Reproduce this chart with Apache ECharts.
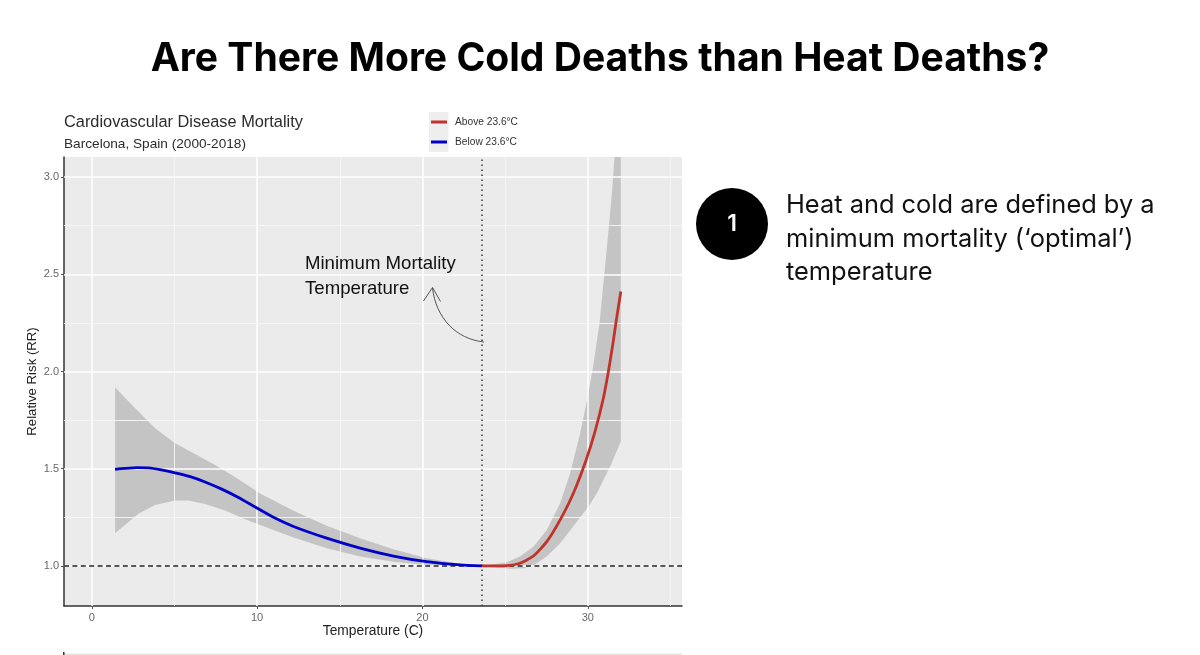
<!DOCTYPE html>
<html><head><meta charset="utf-8">
<style>html,body{margin:0;padding:0;background:#fff}#c{width:1200px;height:655px}</style>
<script src="https://cdn.jsdelivr.net/npm/echarts@6/dist/echarts.min.js"></script>
</head><body><div id="c"></div>
<script>
const slideTitle = 'Are There More Cold Deaths than Heat Deaths?';
const plotTitle = 'Cardiovascular Disease Mortality';
const plotSubtitle = 'Barcelona, Spain (2000-2018)';
const note = 'Heat and cold are defined by a\nminimum mortality (‘optimal’)\ntemperature';
const annotation = 'Minimum Mortality\nTemperature';
const xTicks = [0, 10, 20, 30];
const xMinor = [5, 15, 25, 35];
const yTicks = [1.0, 1.5, 2.0, 2.5, 3.0];
const yMinor = [1.25, 1.75, 2.25, 2.75];
const mmt = 23.6;

const belowMean = [[1.41,1.497],[2.01,1.502],[2.72,1.506],[3.43,1.504],[4.13,1.495],[5.04,1.479],[5.95,1.459],[6.85,1.432],[7.86,1.395],[8.87,1.352],[9.88,1.303],[10.99,1.25],[12.2,1.203],[14.21,1.143],[16.23,1.092],[18.25,1.051],[20.26,1.022],[22.28,1.005],[23.6,1.0]];
const aboveMean = [[23.6,1.0],[25.1,1.002],[25.9,1.014],[26.71,1.051],[27.52,1.125],[28.33,1.237],[29.13,1.374],[29.9,1.545],[30.45,1.695],[30.95,1.865],[31.29,2.02],[31.55,2.16],[31.76,2.282],[32,2.411]];
const belowUpper = [[1.41,1.919],[2.01,1.865],[2.82,1.794],[3.83,1.708],[5.04,1.631],[6.25,1.576],[7.46,1.519],[8.47,1.468],[9.48,1.412],[10.18,1.372],[12.2,1.284],[14.21,1.207],[16.23,1.142],[18.25,1.086],[20.26,1.04],[22.28,1.011],[23.6,1.0]];
const belowLower = [[1.41,1.168],[2.01,1.211],[2.82,1.268],[3.83,1.314],[5.04,1.336],[5.84,1.336],[6.85,1.319],[8.06,1.285],[9.27,1.24],[10.18,1.21],[12.2,1.146],[14.21,1.091],[16.23,1.048],[18.25,1.022],[20.26,1.005],[22.28,0.998],[23.6,1.0]];
const aboveUpper = [[23.6,1.0],[25.1,1.019],[25.9,1.048],[26.71,1.099],[27.52,1.185],[28.33,1.322],[28.93,1.477],[29.54,1.683],[29.94,1.846],[30.29,2.008],[30.71,2.248],[31.01,2.506],[31.26,2.73],[31.46,2.917],[31.62,3.105],[32,3.55]];
const aboveLower = [[23.6,1.0],[24.5,0.991],[25.3,0.985],[26.1,0.988],[26.71,1.002],[27.52,1.048],[28.33,1.117],[29.13,1.204],[30.04,1.305],[30.55,1.374],[31.35,1.51],[32,1.64]];

const gridLineData = [
  ...xTicks.map(x => ({xAxis: x, lineStyle: {color: '#fff', width: 1.5, type: 'solid'}})),
  ...xMinor.map(x => ({xAxis: x, lineStyle: {color: '#f6f6f6', width: 0.9, type: 'solid'}})),
  ...yTicks.map(y => ({yAxis: y, lineStyle: {color: '#fff', width: 1.5, type: 'solid'}})),
  ...yMinor.map(y => ({yAxis: y, lineStyle: {color: '#f6f6f6', width: 0.9, type: 'solid'}}))
];
function bandSeries(upper, lower, name) {
  return {
    type: 'custom', name, data: upper, silent: true, clip: true, z: 3,
    encode: {x: 0, y: 1},
    renderItem(params, api) {
      if (params.dataIndex !== 0) return null;
      const top = upper.map(r => api.coord(r));
      const bottom = lower.map(r => api.coord(r)).reverse();
      return {type: 'polygon', shape: {points: top.concat(bottom)}, style: {fill: 'rgba(0,0,0,0.165)'}};
    }
  };
}
const font = 'Liberation Sans';
const chart = echarts.init(document.getElementById('c'), null, {renderer: 'canvas'});
chart.setOption({
  animation: false,
  backgroundColor: '#fff',
  textStyle: {fontFamily: font},
  title: [
    {text: slideTitle, left: 595, textAlign: 'center', top: 35, textStyle: {fontFamily: 'Inter', fontSize: 39.1, fontWeight: 700, color: '#000'}},
    {text: plotTitle, left: 59, top: 109, textStyle: {fontFamily: font, fontSize: 16.35, fontWeight: 400, color: '#2b2b2b'}},
    {text: plotSubtitle, left: 59, top: 132, textStyle: {fontFamily: font, fontSize: 13.65, fontWeight: 400, color: '#2b2b2b'}}
  ],
  legend: {
    left: 426, top: 112, orient: 'vertical', itemWidth: 16, itemHeight: 3, itemGap: 10, icon: 'rect',
    data: ['Above 23.6°C', 'Below 23.6°C'], selectedMode: false,
    textStyle: {fontFamily: font, fontSize: 10.2, color: '#333', padding: [0, 0, 0, 3]}
  },
  grid: {left: 64, top: 157, right: 518, bottom: 49, show: true, backgroundColor: '#EBEBEB', borderWidth: 0},
  xAxis: {
    type: 'value', min: -1.68, max: 35.7, name: 'Temperature (C)', nameLocation: 'middle', nameGap: 18, nameMoveOverlap: false,
    nameTextStyle: {fontSize: 13.8, color: '#222', fontFamily: font},
    axisLine: {show: true, onZero: false, lineStyle: {color: '#333', width: 1.5}},
    axisTick: {show: true, length: 3, customValues: xTicks, lineStyle: {color: '#555', width: 1}},
    axisLabel: {customValues: xTicks, color: '#666', fontSize: 11, margin: 6, fontFamily: font},
    splitLine: {show: false}
  },
  yAxis: {
    type: 'value', min: 0.794, max: 3.103, name: 'Relative Risk (RR)', nameLocation: 'middle', nameGap: 25, nameMoveOverlap: false,
    nameTextStyle: {fontSize: 13.2, color: '#222', fontFamily: font},
    axisLine: {show: true, onZero: false, lineStyle: {color: '#333', width: 1.5}},
    axisTick: {show: true, length: 3, customValues: yTicks, lineStyle: {color: '#555', width: 1}},
    axisLabel: {customValues: yTicks, color: '#666', fontSize: 11, margin: 5, fontFamily: font, formatter: v => v.toFixed(1)},
    splitLine: {show: false}
  },
  series: [
    {type: 'line', name: 'grid', data: [], silent: true, z: 2,
     markLine: {silent: true, symbol: 'none', label: {show: false}, animation: false, data: gridLineData}},
    bandSeries(belowUpper, belowLower, 'belowBand'),
    bandSeries(aboveUpper, aboveLower, 'aboveBand'),
    {type: 'line', name: 'guides', data: [], silent: true, z: 4,
     markLine: {silent: true, symbol: 'none', label: {show: false}, animation: false, data: [
       {yAxis: 1.0, lineStyle: {color: '#222', width: 1.6, type: [5, 3.4]}},
       {xAxis: mmt, lineStyle: {color: '#444', width: 1.6, type: [1.5, 3.5]}}
     ]}},
    {type: 'line', name: 'Below 23.6°C', data: belowMean, showSymbol: false, smooth: 0.2, z: 5,
     lineStyle: {color: '#0000C8', width: 2.8}, itemStyle: {color: '#0000C8'}},
    {type: 'line', name: 'Above 23.6°C', data: aboveMean, showSymbol: false, smooth: 0.2, z: 5,
     lineStyle: {color: '#C0322A', width: 2.8}, itemStyle: {color: '#C0322A'}}
  ],
  graphic: [
    {type: 'rect', z: -1, shape: {x: 429, y: 112, width: 19.5, height: 40}, style: {fill: '#EEEEEE'}},
    {type: 'rect', z: 1, shape: {x: 64, y: 653.5, width: 618, height: 2}, style: {fill: '#E4E4E4'}},
    {type: 'rect', z: 1, shape: {x: 63, y: 652, width: 1.5, height: 3}, style: {fill: '#333'}},
    {type: 'text', z: 10, x: 305, y: 252, style: {text: annotation, font: '18.6px "Liberation Sans"', fill: '#111', lineHeight: 24.5}},
    {type: 'bezierCurve', z: 10, shape: {x1: 484, y1: 342, cpx1: 456, cpy1: 339, cpx2: 436, cpy2: 318, x2: 432.5, y2: 288}, style: {stroke: '#444', lineWidth: 0.9, fill: 'none'}},
    {type: 'polyline', z: 10, shape: {points: [[423.5, 301], [432.5, 287.5], [440.5, 301.5]]}, style: {stroke: '#444', lineWidth: 0.9, fill: 'none'}},
    {type: 'circle', z: 10, shape: {cx: 732, cy: 224, r: 36}, style: {fill: '#000'}},
    {type: 'text', z: 11, x: 732, y: 224, style: {text: '1', font: '600 23px "Inter"', fill: '#fff', align: 'center', verticalAlign: 'middle'}},
    {type: 'text', z: 10, x: 786, y: 189, style: {text: note, font: '25.4px "Inter"', fill: '#111', lineHeight: 33.5}}
  ]
});
</script></body></html>
